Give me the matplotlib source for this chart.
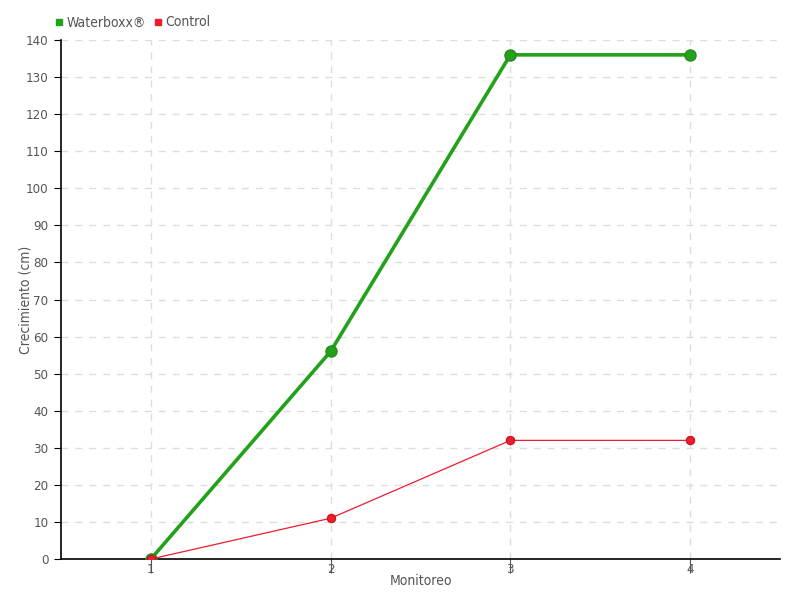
import matplotlib.pyplot as plt
from matplotlib.lines import Line2D

plt.rcParams['font.family'] = ['DejaVu Sans']
plt.rcParams['font.stretch'] = 'condensed'

monitoreo = [1, 2, 3, 4]
waterboxx = [0, 56, 136, 136]
control = [0, 11, 32, 32]
yticks = list(range(0, 141, 10))

green = '#22a11a'
red = '#ee1c2e'
textc = '#555555'

fig = plt.figure(figsize=(8, 6), dpi=100)
ax = fig.add_axes([0.07625, 0.0683, 0.89875, 0.865])

ax.plot(monitoreo, waterboxx, color=green, lw=2.6, marker='o', ms=8,
        mfc=green, mec='#2a8a22', mew=1, zorder=3)
ax.plot(monitoreo, control, color=red, lw=0.9, marker='o', ms=6,
        mfc=red, mec='#c8101e', mew=0.8, zorder=4)

ax.set_xlim(0.5, 4.5)
ax.set_ylim(0, 140)
ax.set_xticks(monitoreo)
ax.set_yticks(yticks)
ax.grid(True, color='#dddddd', linestyle=(0, (5, 5)), lw=1)
ax.set_axisbelow(True)
for s in ['top', 'right']:
    ax.spines[s].set_visible(False)
ax.spines['left'].set_linewidth(1.2)
ax.spines['bottom'].set_linewidth(1.2)
ax.tick_params(axis='y', direction='out', length=5, colors='black', labelcolor=textc, labelsize=9.5, pad=4)
ax.tick_params(axis='x', direction='out', length=10, color='#555555', labelcolor=textc, labelsize=9.5, pad=-7)

ax.set_xlabel('Monitoreo', color=textc, fontsize=10)
ax.set_ylabel('Crecimiento (cm)', color=textc, fontsize=10)
ax.xaxis.set_label_coords(0.5, -0.042)
ax.yaxis.set_label_coords(-0.05, 0.5)
ax.xaxis.label.set_va('center')
ax.yaxis.label.set_va('center')

handles = [Line2D([], [], color=green, marker='s', ls='none', ms=5),
           Line2D([], [], color=red, marker='s', ls='none', ms=5)]
fig.legend(handles, ['Waterboxx®', 'Control'], loc='upper left',
           bbox_to_anchor=(0.05, 0.995), ncol=2, frameon=False,
           handletextpad=0.0, columnspacing=0.4, fontsize=10,
           labelcolor=textc, handlelength=1)

fig.savefig('out.png', dpi=100)
